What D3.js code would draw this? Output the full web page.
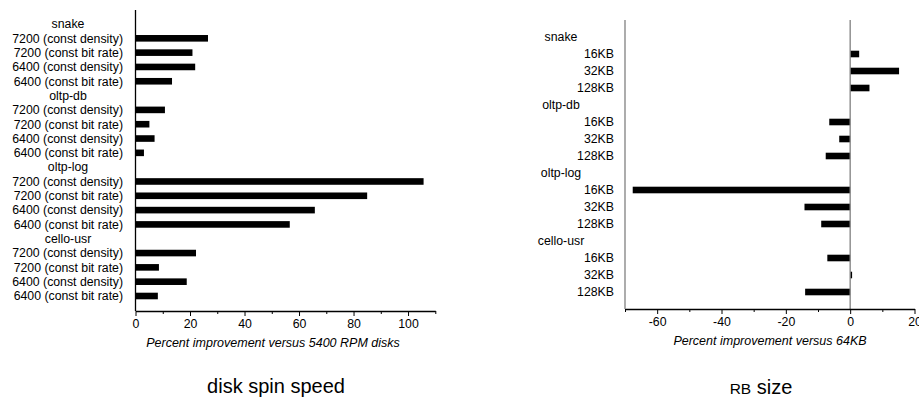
<!DOCTYPE html>
<html>
<head>
<meta charset="utf-8">
<script src="https://cdn.jsdelivr.net/npm/d3@7"></script>
<style>
  body { margin: 0; background: #fff; }
  svg { display: block; font-family: "Liberation Sans", Arial, sans-serif; }
  .domain { stroke: #000; }
</style>
</head>
<body>
<svg id="chart" width="919" height="400"></svg>
<script>
// left panel: disk spin speed
var workloads = ['snake', 'oltp-db', 'oltp-log', 'cello-usr'];
var spinSeries = ['7200 (const density)', '7200 (const bit rate)', '6400 (const density)', '6400 (const bit rate)'];
var spinValues = [
    [26.6, 20.9, 21.9, 13.4],
    [10.8, 5.1, 7.0, 3.1],
    [105.7, 85.0, 65.8, 56.6],
    [22.2, 8.6, 18.8, 8.2]
];
var spinMajorTicks = [0, 20, 40, 60, 80, 100];
var spinMinorTicks = [10, 30, 50, 70, 90, 110];

// right panel: RB size
var rbSizes = ['16KB', '32KB', '128KB'];
var rbValues = [
    [2.8, 15.2, 6.0],
    [-6.5, -3.4, -7.6],
    [-67.6, -14.2, -9.0],
    [-7.1, 0.6, -14.0]
];
var rbMajorTicks = [-60, -40, -20, 0, 20];
var rbMinorTicks = [-70, -50, -30, -10, 10];

var svg = d3.select('#chart');
var fontSize = 12.3;

function buildRows(series, values) {
    var rows = [];
    workloads.forEach(function (w, gi) {
        rows.push({ header: true, label: w });
        series.forEach(function (s, si) {
            rows.push({ header: false, label: s, value: values[gi][si] });
        });
    });
    return rows;
}

function drawPanel(opts) {
    var rows = buildRows(opts.series, opts.values);
    var x = d3.scaleLinear().domain(opts.domain).range(opts.xRange);
    var y = d3.scalePoint().domain(d3.range(rows.length)).range(opts.yRange);
    var g = svg.append('g');

    // bars
    g.selectAll('rect.bar')
        .data(rows.map(function (r, i) { return { r: r, i: i }; }).filter(function (d) { return !d.r.header; }))
        .enter()
        .append('rect')
        .attr('class', 'bar')
        .attr('x', function (d) { return Math.min(x(0), x(d.r.value)); })
        .attr('width', function (d) { return Math.abs(x(d.r.value) - x(0)); })
        .attr('y', function (d) { return y(d.i) - 3.3; })
        .attr('height', 6.6)
        .attr('fill', '#000');

    // row labels
    g.selectAll('text.row')
        .data(rows.map(function (r, i) { return { r: r, i: i }; }))
        .enter()
        .append('text')
        .attr('class', 'row')
        .attr('x', function (d) { return d.r.header ? opts.headerX : opts.labelX; })
        .attr('y', function (d) { return y(d.i); })
        .attr('dy', '0.35em')
        .attr('text-anchor', function (d) { return d.r.header ? 'middle' : 'end'; })
        .style('font-size', fontSize + 'px')
        .text(function (d) { return d.r.label; });

    // vertical axis line
    g.append('line')
        .attr('x1', x(opts.domain[0])).attr('x2', x(opts.domain[0]))
        .attr('y1', opts.axisTop).attr('y2', opts.axisY)
        .attr('stroke', opts.vColor).attr('stroke-width', 1.3);

    if (opts.zeroLine) {
        g.append('line')
            .attr('x1', x(0)).attr('x2', x(0))
            .attr('y1', opts.axisTop).attr('y2', opts.axisY)
            .attr('stroke', '#808080').attr('stroke-width', 1.3);
    }

    // x axis
    var minor = g.append('g')
        .attr('transform', 'translate(0,' + opts.axisY + ')')
        .call(d3.axisBottom(x).tickValues(opts.minor).tickSize(3).tickSizeOuter(0).tickFormat(''));
    minor.select('.domain').remove();

    var major = g.append('g')
        .attr('transform', 'translate(0,' + opts.axisY + ')')
        .call(d3.axisBottom(x).tickValues(opts.major).tickSize(5).tickPadding(3).tickSizeOuter(0)
            .tickFormat(function (d) { return String(d); }));
    major.selectAll('text')
        .style('font-size', fontSize + 'px')
        .style('font-family', '"Liberation Sans", Arial, sans-serif');
    major.select('.domain').attr('stroke-width', 1.3);

    g.append('text')
        .attr('x', opts.titleX)
        .attr('y', opts.axisTitleY)
        .attr('text-anchor', 'middle')
        .style('font-size', '12.5px')
        .style('font-style', 'italic')
        .text(opts.axisTitle);
}

drawPanel({
    series: spinSeries,
    values: spinValues,
    domain: [0, 110],
    xRange: [135.5, 435.3],
    yRange: [24, 296],
    axisTop: 10,
    axisY: 311,
    labelX: 123,
    headerX: 68,
    vColor: '#000',
    zeroLine: false,
    major: spinMajorTicks,
    minor: spinMinorTicks,
    titleX: 273,
    axisTitleY: 347,
    axisTitle: 'Percent improvement versus 5400 RPM disks'
});

drawPanel({
    series: rbSizes,
    values: rbValues,
    domain: [-70, 20],
    xRange: [625, 914.5],
    yRange: [37, 292],
    axisTop: 20,
    axisY: 309,
    labelX: 614,
    headerX: 561,
    vColor: '#808080',
    zeroLine: true,
    major: rbMajorTicks,
    minor: rbMinorTicks,
    titleX: 770,
    axisTitleY: 345,
    axisTitle: 'Percent improvement versus 64KB'
});

// panel captions
svg.append('text')
    .attr('x', 276)
    .attr('y', 393)
    .attr('text-anchor', 'middle')
    .style('font-size', '20px')
    .text('disk spin speed');

var cap = svg.append('text')
    .attr('x', 761)
    .attr('y', 394)
    .attr('text-anchor', 'middle')
    .style('font-size', '20px');
cap.append('tspan').style('font-size', '15.5px').text('RB');
cap.append('tspan').text(' size');
</script>
</body>
</html>
